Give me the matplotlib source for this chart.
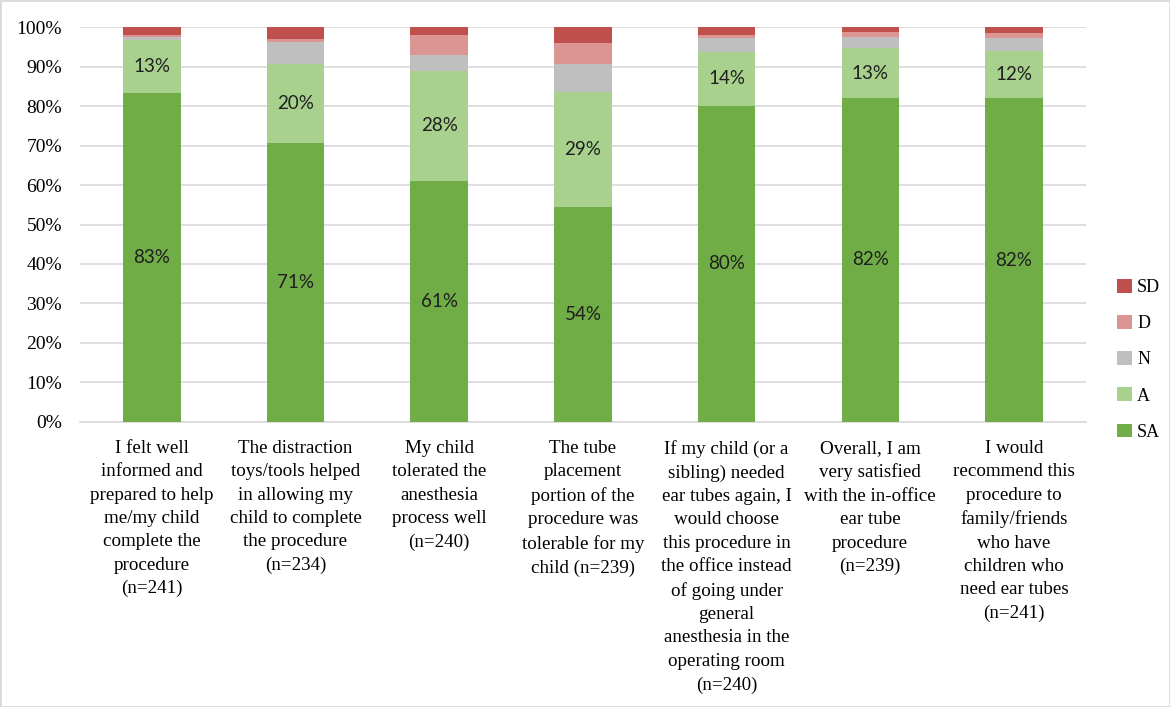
import matplotlib
matplotlib.use("Agg")
import matplotlib.pyplot as plt
from matplotlib.patches import Rectangle
import numpy as np

categories = [
    "I felt well\ninformed and\nprepared to help\nme/my child\ncomplete the\nprocedure\n(n=241)",
    "The distraction\ntoys/tools helped\nin allowing my\nchild to complete\nthe procedure\n(n=234)",
    "My child\ntolerated the\nanesthesia\nprocess well\n(n=240)",
    "The tube\nplacement\nportion of the\nprocedure was\ntolerable for my\nchild (n=239)",
    "If my child (or a\nsibling) needed\near tubes again, I\nwould choose\nthis procedure in\nthe office instead\nof going under\ngeneral\nanesthesia in the\noperating room\n(n=240)",
    "Overall, I am\nvery satisfied\nwith the in-office\near tube\nprocedure\n(n=239)",
    "I would\nrecommend this\nprocedure to\nfamily/friends\nwho have\nchildren who\nneed ear tubes\n(n=241)",
]

series_names = ["SA", "A", "N", "D", "SD"]
SA = [83.4, 70.7, 61.1, 54.4, 80.1, 82.1, 82.0]
A = [13.3, 20.0, 27.9, 29.3, 13.7, 12.6, 12.0]
N = [0.8, 5.6, 3.9, 7.1, 3.4, 2.8, 3.3]
D = [0.5, 0.7, 5.1, 5.1, 0.8, 1.2, 1.2]
SD = [2.0, 3.0, 2.0, 4.1, 2.0, 1.3, 1.5]
yticks = [0, 10, 20, 30, 40, 50, 60, 70, 80, 90, 100]

colors = {"SA": "#70AD47", "A": "#A9D18E", "N": "#BFBFBF", "D": "#DB9693", "SD": "#C0504D"}

fig = plt.figure(figsize=(11.7, 7.07), dpi=100)
ax = fig.add_axes([0.0684, 0.4035, 0.8596, 0.5579])

x = np.arange(len(categories))
bottom = np.zeros(len(categories))
handles = {}
data = {"SA": SA, "A": A, "N": N, "D": D, "SD": SD}
for name in series_names:
    vals = np.array(data[name])
    bars = ax.bar(x, vals, width=0.4, bottom=bottom, color=colors[name], label=name, zorder=3)
    handles[name] = bars
    if name in ("SA", "A"):
        ax.bar_label(bars, labels=[f"{round(v)}%" for v in vals], label_type="center",
                     fontsize=13.5, family="Lato", color="#1f1f1f")
    bottom += vals

ax.set_xlim(-0.5, len(categories) - 0.5)
ax.set_ylim(0, 100)
ax.set_yticks(yticks)
ax.set_yticklabels([f"{t}%" for t in yticks], family="Liberation Serif", fontsize=14)
ax.set_xticks(x)
ax.set_xticklabels(categories, family="Liberation Serif", fontsize=13.7, linespacing=1.49, va="top")
ax.tick_params(axis="both", length=0)
ax.tick_params(axis="y", pad=13)
ax.tick_params(axis="x", pad=13)
ax.grid(axis="y", color="#D9D9D9", linewidth=1.2, zorder=0)
for s in ("top", "right", "left"):
    ax.spines[s].set_visible(False)
ax.spines["bottom"].set_color("#D9D9D9")
ax.spines["bottom"].set_linewidth(1.2)

order = ["SD", "D", "N", "A", "SA"]
leg = fig.legend([handles[n] for n in order], order, loc="center left",
                 bbox_to_anchor=(0.941, 0.491), frameon=False,
                 prop={"family": "Liberation Serif", "size": 13},
                 handlelength=0.8, handleheight=0.8, labelspacing=1.05, handletextpad=0.3)

fig.patches.append(Rectangle((0, 0), 1, 1, transform=fig.transFigure, fill=False,
                             edgecolor="#D9D9D9", linewidth=2))

fig.savefig("out.png", dpi=100)
